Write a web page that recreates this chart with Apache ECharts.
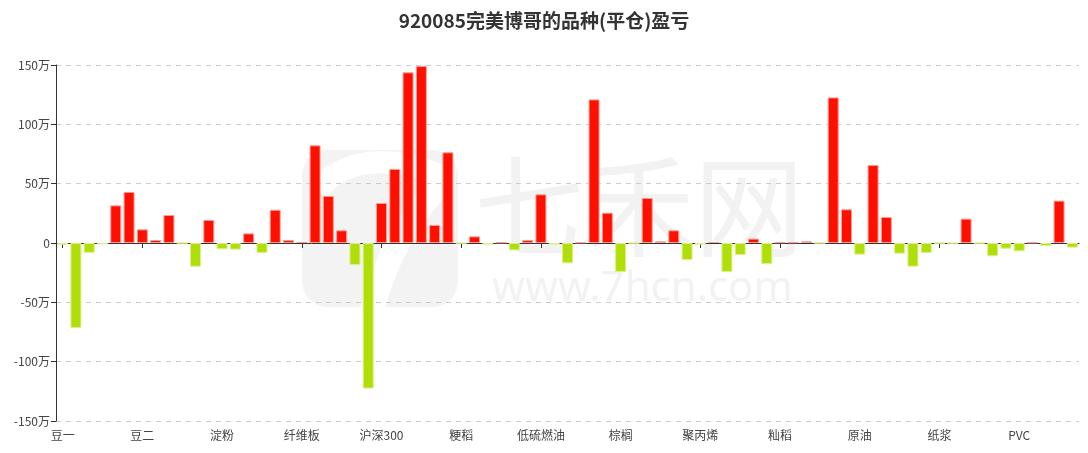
<!DOCTYPE html>
<html>
<head>
<meta charset="utf-8">
<style>
html,body{margin:0;padding:0;background:#fff;}
#chart{width:1088px;height:453px;}
</style>
<script src="https://cdn.jsdelivr.net/npm/echarts@6/dist/echarts.min.js"></script>
</head>
<body>
<div id="chart"></div>
<script>
// ---- data ----
const titleText = '920085完美博哥的品种(平仓)盈亏';
const categories = [
  '豆一','豆粕','豆油','玉米','鸡蛋','聚乙烯',
  '豆二','焦炭','焦煤','铁矿石','乙二醇','苯乙烯',
  '淀粉','生猪','液化气','胶合板','螺纹钢','热卷',
  '纤维板','沪铜','沪铝','沪锌','沪铅','沪镍',
  '沪深300','上证50','中证500','沪金','沪银','沪锡',
  '粳稻','燃油','沥青','橡胶','不锈钢','线材',
  '低硫燃油','国际铜','20号胶','白糖','棉花','菜油',
  '棕榈','菜粕','甲醇','PTA','玻璃','动力煤',
  '聚丙烯','硅铁','锰硅','苹果','红枣','尿素',
  '籼稻','纯碱','短纤','花生','强麦','普麦',
  '原油','棉纱','油菜籽','粳米','十年国债','五年国债',
  '纸浆','二年国债','中证1000','工业硅','碳酸锂','集运指数',
  'PVC','氧化铝','丁二烯橡胶','烧碱','对二甲苯'
];
// profit / loss in yuan
const profits = [
  -15000, -716000, -83000, -12000, 317000, 430000,
  115000, 25000, 236000, -1000, -200000, 194000,
  -53000, -56000, 81000, -84000, 280000, 25000,
  8000, 823000, 396000, 107000, -185000, -1227000,
  337000, 624000, 1438000, 1491000, 152000, 764000,
  -2000, 56000, -14000, 6000, -62000, 25000,
  410000, -14000, -171000, 5000, 1210000, 255000,
  -244000, -2000, 379000, 14000, 107000, -143000,
  -14000, 8000, -244000, -101000, 37000, -177000,
  6000, 6000, 14000, -500, 1227000, 284000,
  -98000, 657000, 219000, -90000, -199000, -84000,
  -2000, -2000, 205000, -2000, -112000, -48000,
  -70000, 5000, -25000, 357000, -39000
];
const yTicks = { min: -1500000, max: 1500000, interval: 500000 };
const colorUp = '#FF0F00';
const colorDown = '#B0DE09';
const borderUp = '#ff9a90';
const borderDown = '#dcf08a';

// ---- chart ----
const barData = profits.map(v => ({
  value: v,
  itemStyle: {
    color: v >= 0 ? colorUp : colorDown,
    borderColor: v >= 0 ? borderUp : borderDown
  }
}));

const chart = echarts.init(document.getElementById('chart'));
const option = {
  animation: false,
  backgroundColor: '#ffffff',
  title: {
    text: titleText,
    left: 'center',
    top: 6,
    textStyle: { fontSize: 19, fontWeight: 'bold', color: '#333333', fontFamily: 'Noto Sans CJK SC' }
  },
  graphic: [
    { type: 'rect', z: -10, shape: { x: 302, y: 150, width: 156, height: 157, r: 26 }, style: { fill: '#f3f3f3' } },
    { type: 'bezierCurve', z: -9, shape: { x1: 318, y1: 190, x2: 445, y2: 178, cpx1: 350, cpy1: 150, cpx2: 410, cpy2: 160 }, style: { stroke: '#ffffff', lineWidth: 22, fill: null } },
    { type: 'bezierCurve', z: -9, shape: { x1: 440, y1: 185, x2: 372, y2: 310, cpx1: 410, cpy1: 215, cpx2: 385, cpy2: 260 }, style: { stroke: '#ffffff', lineWidth: 24, fill: null } },
    { type: 'text', z: -10, style: { x: 474, y: 206, text: '七禾网', fontSize: 110, fontFamily: 'Noto Sans CJK SC', fill: '#f2f2f2', verticalAlign: 'middle' } },
    { type: 'text', z: -10, style: { x: 492, y: 289, text: 'www.7hcn.com', fontSize: 42, fontFamily: 'Noto Sans', fill: '#f2f2f2', verticalAlign: 'middle' } }
  ],
  grid: { left: 56, right: 9, top: 65, bottom: 32, containLabel: false },
  xAxis: [
    {
      type: 'category',
      data: categories,
      position: 'bottom',
      axisLine: { show: true, onZero: true, lineStyle: { color: '#333333', width: 1 } },
      axisTick: { show: true, alignWithLabel: true, interval: 5, length: 5, lineStyle: { color: '#333333' } },
      axisLabel: { show: false },
      splitLine: { show: false }
    },
    {
      type: 'category',
      data: categories,
      position: 'bottom',
      axisLine: { show: false, onZero: false },
      axisTick: { show: false },
      axisLabel: { show: true, interval: 5, color: '#444444', fontSize: 12, margin: 8, fontFamily: 'Noto Sans CJK SC' },
      splitLine: { show: false }
    }
  ],
  yAxis: {
    type: 'value',
    min: yTicks.min,
    max: yTicks.max,
    interval: yTicks.interval,
    axisLine: { show: true, lineStyle: { color: '#333333' } },
    axisTick: { show: true, length: 5, lineStyle: { color: '#333333' } },
    axisLabel: {
      color: '#444444', fontSize: 12, margin: 6, fontFamily: 'Noto Sans CJK SC',
      formatter: v => v === 0 ? '0' : (v / 10000) + '万'
    },
    splitLine: { show: true, lineStyle: { color: '#cccccc', type: [5, 5] } }
  },
  series: [{
    type: 'bar',
    xAxisIndex: 0,
    data: barData,
    barWidth: 11,
    itemStyle: { borderWidth: 1 }
  }]
};
chart.setOption(option);
</script>
</body>
</html>
